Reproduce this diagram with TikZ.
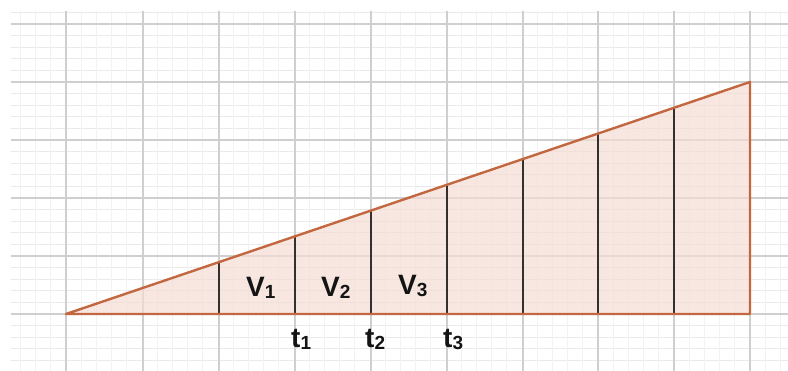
\documentclass[tikz,border=0pt]{standalone}
\usepackage{fontspec}
\setmainfont{Liberation Sans}
\definecolor{gridmaj}{HTML}{CFCFCF}
\definecolor{gridminh}{HTML}{EAEAEA}
\definecolor{gridminv}{HTML}{F2F2F2}
\definecolor{edgec}{HTML}{C2673F}
\definecolor{fillc}{HTML}{F5DDD3}
\definecolor{barc}{HTML}{35302D}
\newcommand{\lsub}[1]{{\fontsize{19}{19}\selectfont\raisebox{-2pt}{#1}}}
\tikzset{
  majline/.style={draw=gridmaj, line width=1.6pt},
  minlineh/.style={draw=gridminh, line width=1pt},
  minlinev/.style={draw=gridminv, line width=1pt},
  edge/.style={draw=edgec, line width=2.4pt},
  bar/.style={draw=barc, line width=2.8pt},
  lab/.style={inner sep=0pt, anchor=base west, font=\fontsize{28}{28}\selectfont\bfseries, text=black!92}
}
\begin{document}
\begin{tikzpicture}[x=1pt,y=-1pt]
\useasboundingbox (0,0) rectangle (788,371);
\fill[white] (0,0) rectangle (788,371);
\begin{scope}
\clip (11,11) rectangle (788,371);
% minor grid
\foreach \k in {0,...,30} {\draw[minlineh] (11,{24+11.6*\k-11.6}) -- (788,{24+11.6*\k-11.6});}
\foreach \k in {-4,...,48} {\draw[minlinev] ({66+15.2*\k},11) -- ({66+15.2*\k},371);}
% major grid
\foreach \y in {24,82,140,198,256,314} {\draw[majline] (11,\y) -- (788,\y);}
\foreach \x in {66,143,219,295,371,447,523,598,674,750} {\draw[majline] (\x,11) -- (\x,371);}
\end{scope}
% triangle
\coordinate (A) at (66,314);
\coordinate (B) at (750,314);
\coordinate (C) at (750,82);
\fill[fillc, fill opacity=0.7] (A) -- (B) -- (C) -- cycle;
% vertical bars
\foreach \x [count=\i] in {219,295,371,447,523,598,674} {
  \coordinate (b\i) at (\x,314);
  \coordinate (h\i) at (\x,{314-(\x-66)/684*232});
  \draw[bar] (b\i) -- (h\i);
}
\draw[edge, line join=round] (A) -- (B) -- (C) -- cycle;
% labels
\node[lab] (v1) at (246,297) {V\lsub{1}};
\node[lab] (v2) at (321,297) {V\lsub{2}};
\node[lab] (v3) at (398,295) {V\lsub{3}};
\node[lab] (t1) at (291,348) {t\lsub{1}};
\node[lab] (t2) at (365,348) {t\lsub{2}};
\node[lab] (t3) at (443,348) {t\lsub{3}};
\end{tikzpicture}
\end{document}
